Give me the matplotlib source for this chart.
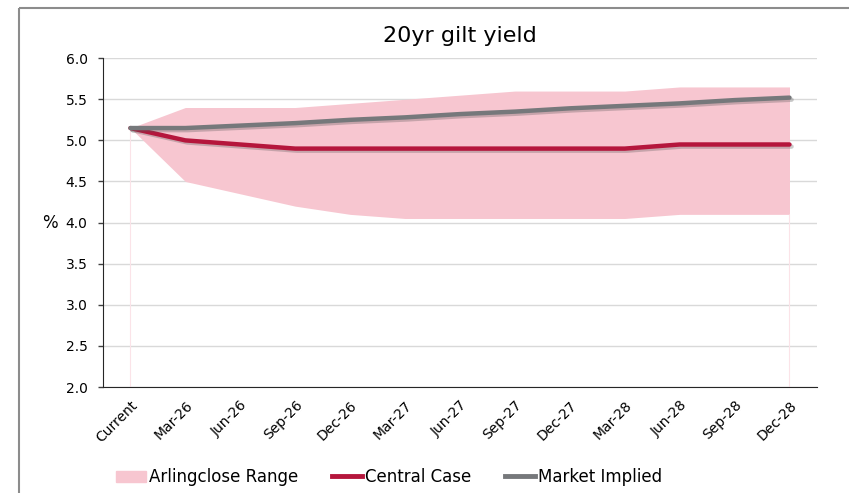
import matplotlib.pyplot as plt
import matplotlib.patheffects as pe
from matplotlib.patches import Patch
from matplotlib.lines import Line2D

plt.rcParams['font.family'] = ['DejaVu Sans']

periods = ['Current', 'Mar-26', 'Jun-26', 'Sep-26', 'Dec-26', 'Mar-27', 'Jun-27',
           'Sep-27', 'Dec-27', 'Mar-28', 'Jun-28', 'Sep-28', 'Dec-28']
range_low = [5.15, 4.50, 4.35, 4.20, 4.10, 4.05, 4.05, 4.05, 4.05, 4.05, 4.10, 4.10, 4.10]
range_high = [5.15, 5.40, 5.40, 5.40, 5.45, 5.50, 5.55, 5.60, 5.60, 5.60, 5.65, 5.65, 5.65]
central = [5.15, 5.00, 4.95, 4.90, 4.90, 4.90, 4.90, 4.90, 4.90, 4.90, 4.95, 4.95, 4.95]
market = [5.15, 5.15, 5.18, 5.21, 5.25, 5.28, 5.32, 5.35, 5.39, 5.42, 5.45, 5.49, 5.52]
yticks = [2.0, 2.5, 3.0, 3.5, 4.0, 4.5, 5.0, 5.5, 6.0]

range_col = '#F7C6D0'
central_col = '#B5163C'
market_col = '#76787B'

fig = plt.figure(figsize=(8.51, 4.93), dpi=100)
# outer chart frame (only top and left edges fall inside the image)
fx, fy = 19 / 851, 1 - 8 / 493
fig.add_artist(Line2D([fx, 0.998], [fy, fy], transform=fig.transFigure, color='#8C8C8C',
                      lw=1.5, solid_capstyle='butt'))
fig.add_artist(Line2D([fx, fx], [0.0, fy], transform=fig.transFigure, color='#8C8C8C',
                      lw=1.5, solid_capstyle='butt'))

ax = fig.add_axes([0.121, 0.215, 0.839, 0.667])

x = list(range(len(periods)))
ax.fill_between(x, range_low, range_high, color=range_col, lw=0, zorder=1)
# faint edges of the stacked area base
ax.vlines([x[0], x[-1]], 2.0, [range_low[0], range_low[-1]], color='#FBE3E8', lw=0.8, zorder=1)

shadow = [pe.SimpleLineShadow(offset=(1.5, -1.5), shadow_color='#555555', alpha=0.3), pe.Normal()]
ax.plot(x, central, color=central_col, lw=3.2, zorder=3, path_effects=shadow,
        solid_capstyle='round')
ax.plot(x, market, color=market_col, lw=3.2, zorder=3, path_effects=shadow,
        solid_capstyle='round')

ax.set_xlim(-0.5, len(periods) - 0.5)
ax.set_ylim(2.0, 6.0)
ax.set_yticks(yticks)
ax.set_yticklabels([f'{v:.1f}' for v in yticks], fontsize=10)
ax.set_xticks(x)
ax.set_xticklabels(periods, rotation=45, ha='right', rotation_mode='anchor', fontsize=10)
ax.tick_params(axis='x', length=0, pad=8)
ax.tick_params(axis='y', length=3.6, width=1, color='#404040', pad=7.5)
ax.grid(axis='y', color='#D9D9D9', lw=1)
ax.set_axisbelow(True)
for s in ['top', 'right']:
    ax.spines[s].set_visible(False)
ax.spines['left'].set_color('#262626')
ax.spines['bottom'].set_color('#262626')
ax.spines['left'].set_zorder(4)

ax.set_ylabel('%', rotation=0, fontsize=12, va='center', ha='center')
ax.yaxis.set_label_coords(-0.074, 0.5)
ax.set_title('20yr gilt yield', fontsize=16, pad=12)

handles = [Patch(color=range_col), Line2D([], [], color=central_col, lw=3.5),
           Line2D([], [], color=market_col, lw=3.5)]
fig.legend(handles, ['Arlingclose Range', 'Central Case', 'Market Implied'],
           loc='center left', bbox_to_anchor=(0.127, 0.032), ncol=3, frameon=False,
           fontsize=12, handlelength=1.8, handletextpad=0.18, columnspacing=2.0,
           borderpad=0.0)

fig.savefig('out.png', dpi=100)
